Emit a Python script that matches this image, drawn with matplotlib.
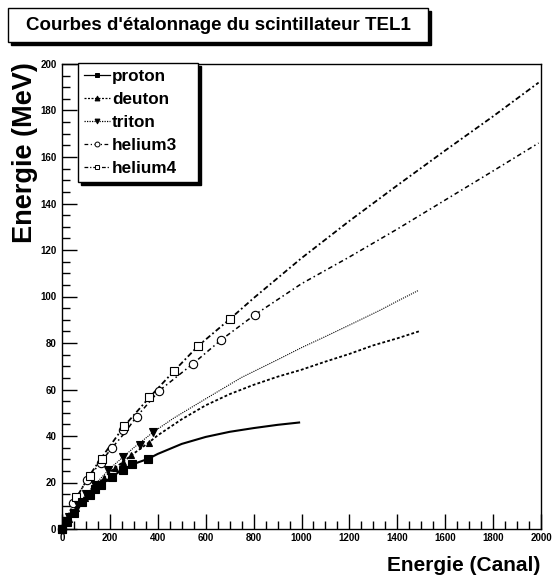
import numpy as np
import matplotlib.pyplot as plt
from matplotlib.patches import Rectangle
from matplotlib.lines import Line2D
from matplotlib.ticker import MultipleLocator

plt.rcParams['font.family'] = ['Liberation Sans', 'DejaVu Sans']
plt.rcParams['font.weight'] = 'bold'

# courbes d'etalonnage (fits)
proton_cx = [0, 50, 100, 150, 200, 250, 300, 360, 400, 500, 600, 700, 800, 900, 990]
proton_cy = [0, 7, 13, 18.3, 21.8, 25.4, 28, 30.2, 32.3, 36.6, 39.6, 41.8, 43.4, 44.8, 45.8]
deuton_cx = [0, 50, 100, 150, 200, 250, 300, 360, 400, 500, 600, 700, 800, 900, 1000, 1100, 1200, 1300, 1400, 1490]
deuton_cy = [0, 7.5, 14, 19.5, 24.5, 28.5, 32.5, 37, 40.3, 47.2, 53.2, 58, 62, 65.5, 68.5, 72, 75.3, 79, 82, 85]
triton_cx = [0, 50, 100, 150, 200, 250, 300, 380, 465, 600, 750, 900, 1000, 1100, 1200, 1330, 1400, 1490]
triton_cy = [0, 8, 15, 20.5, 26, 30.5, 35, 41.6, 47.6, 56, 65.2, 72.8, 78, 82.8, 87.7, 94.2, 98, 102.7]
helium3_cx = [0, 47, 103, 160, 207, 260, 309, 405, 546, 664, 806, 1000, 1200, 1400, 1600, 1800, 1990]
helium3_cy = [0, 11, 21, 28.5, 34.7, 41.1, 48, 59.4, 71, 81.3, 92.2, 105.5, 117, 129, 141.5, 154, 166]
helium4_cx = [0, 61, 114, 166, 260, 365, 469, 569, 701, 800, 1000, 1200, 1400, 1600, 1800, 1990]
helium4_cy = [0, 13.6, 22.9, 30.8, 44.3, 56.6, 68.1, 78.8, 90.3, 99.3, 116.5, 132.5, 147.8, 162.8, 177.5, 192]

# points de mesure
proton_mx = [0, 22, 51, 82, 117, 138, 163, 207, 253, 294, 358]
proton_my = [0, 3.2, 6.8, 11.4, 14.6, 17.3, 19.0, 22.5, 25.5, 28.0, 30.2]
deuton_mx = [0, 28, 60, 95, 130, 175, 221, 255, 288, 362]
deuton_my = [0, 4.3, 9, 13.5, 17.5, 22, 26.3, 29, 31.8, 37]
triton_mx = [0, 30, 65, 100, 138, 190, 253, 326, 380]
triton_my = [0, 5, 10.5, 15, 18.8, 25.4, 30.8, 36.1, 41.6]
helium3_mx = [0, 47, 103, 163, 207, 256, 312, 405, 546, 664, 806]
helium3_my = [0, 11, 21, 28.3, 34.7, 42.6, 48.3, 59.4, 71, 81.3, 92.2]
helium4_mx = [0, 58, 117, 166, 260, 365, 469, 569, 701]
helium4_my = [0, 13.6, 22.7, 30.3, 44.2, 56.6, 68.1, 78.8, 90.3]

names = ['proton', 'deuton', 'triton', 'helium3', 'helium4']
styles = {
    'proton': dict(ls='-', lw=1.5, marker='s', ms=5.5, mfc='black', z=6),
    'deuton': dict(ls=(0, (1.6, 1.2)), lw=1.3, marker='^', ms=5, mfc='black', z=5),
    'triton': dict(ls=(0, (1, 1)), lw=0.8, marker='v', ms=5.5, mfc='black', z=5),
    'helium3': dict(ls=(0, (3, 2, 1, 2)), lw=1.1, marker='o', ms=6, mfc='white', z=4),
    'helium4': dict(ls=(0, (3, 1.5, 1, 1.5)), lw=1.3, marker='s', ms=6, mfc='white', z=4),
}
curves = {
    'proton': (proton_cx, proton_cy, proton_mx, proton_my),
    'deuton': (deuton_cx, deuton_cy, deuton_mx, deuton_my),
    'triton': (triton_cx, triton_cy, triton_mx, triton_my),
    'helium3': (helium3_cx, helium3_cy, helium3_mx, helium3_my),
    'helium4': (helium4_cx, helium4_cy, helium4_mx, helium4_my),
}

W, H = 552, 577
fig = plt.figure(figsize=(W / 100, H / 100), dpi=100)
ax = fig.add_axes([62 / W, 1 - 529 / H, 479 / W, 465 / H])

for n in names:
    cx, cy, mx, my = curves[n]
    st = styles[n]
    ax.plot(cx, cy, color='black', ls=st['ls'], lw=st['lw'], zorder=3)
    ax.plot(mx, my, ls='none', marker=st['marker'], ms=st['ms'],
            mfc=st['mfc'], mec='black', mew=0.8, clip_on=False, zorder=st['z'])

ax.set_xlim(0, 2000)
ax.set_ylim(0, 200)
ax.xaxis.set_major_locator(MultipleLocator(200))
ax.xaxis.set_minor_locator(MultipleLocator(50))
ax.yaxis.set_major_locator(MultipleLocator(20))
ax.yaxis.set_minor_locator(MultipleLocator(5))
ax.tick_params(which='both', direction='in', top=False, right=False, labelsize=7)
ax.tick_params(which='major', length=10.5, width=1)
ax.tick_params(which='minor', length=5.5, width=1)
ax.tick_params(axis='x', pad=3)
ax.tick_params(axis='y', pad=4)
for s in ax.spines.values():
    s.set_linewidth(1)

ax.set_xlabel('Energie (Canal)', fontsize=15, fontweight='bold', loc='right')
ax.xaxis.set_label_coords(0.999, -0.058)
ax.set_ylabel('Energie (MeV)', fontsize=19.5, fontweight='bold', loc='top')
ax.yaxis.set_label_coords(-0.05, 1.005)

# legende
handles = []
for n in names:
    st = styles[n]
    handles.append(Line2D([0], [0], color='black', ls=st['ls'], lw=0.9,
                          marker=st['marker'], ms=3.5, mfc=st['mfc'],
                          mec='black', mew=0.7))
leg = ax.legend(handles, names, loc='upper left',
                bbox_to_anchor=(78 / W, 1 - 185 / H, 120 / W, 122 / H),
                bbox_transform=fig.transFigure, mode='expand',
                borderaxespad=0, prop={'weight': 'bold', 'size': 12.3},
                handlelength=1.5, handletextpad=0.15, labelspacing=0.47,
                borderpad=0.35, fancybox=False, edgecolor='black',
                framealpha=1, shadow={'color': 'black', 'alpha': 1})
leg.get_frame().set_linewidth(1)
leg.set_zorder(10)

# titre encadre
fig.patches.append(Rectangle((11 / W, 1 - 45 / H), 420 / W, 34 / H,
                             transform=fig.transFigure, facecolor='black',
                             edgecolor='black', zorder=1))
fig.patches.append(Rectangle((8 / W, 1 - 42 / H), 420 / W, 34 / H,
                             transform=fig.transFigure, facecolor='white',
                             edgecolor='black', lw=1, zorder=2))
fig.text(218 / W, 1 - 25 / H, "Courbes d'étalonnage du scintillateur TEL1",
         ha='center', va='center', fontsize=13.5, fontweight='bold', zorder=3)

fig.savefig('out.png', dpi=100)
